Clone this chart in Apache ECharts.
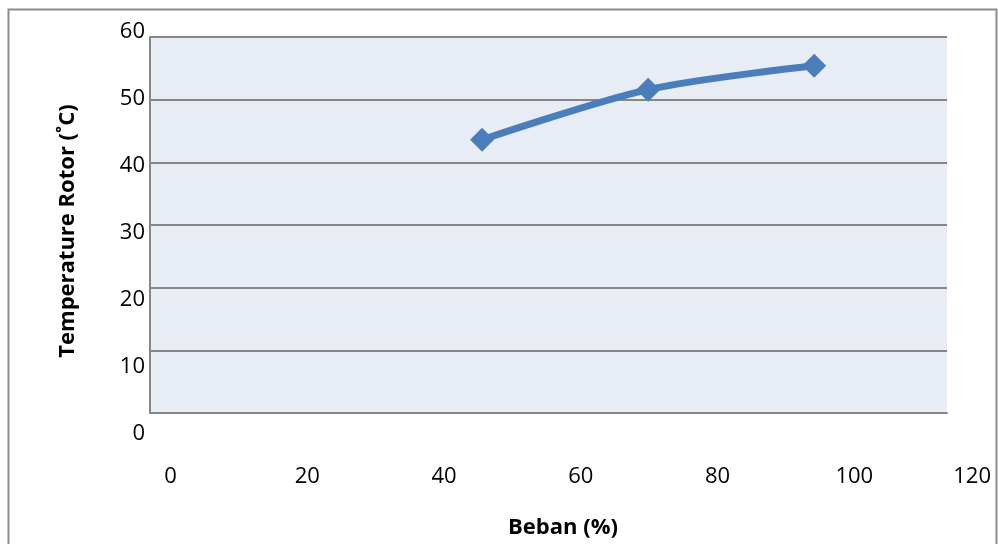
<!DOCTYPE html>
<html>
<head>
<meta charset="utf-8">
<script src="https://cdn.jsdelivr.net/npm/echarts/dist/echarts.min.js"></script>
<style>
  html, body { margin: 0; padding: 0; background: #ffffff; }
  #chart { width: 998px; height: 544px; }
</style>
</head>
<body>
<div id="chart"></div>
<script>
// Load (%) and measured rotor temperature (°C)
const loadPercent = [50, 75, 100];
const rotorTemp = [43.6, 51.6, 55.4];

// Axis ranges and tick steps
const xMin = 0, xMax = 120, xStep = 20;
const yMin = 0, yMax = 60, yStep = 10;

const xTitle = 'Beban (%)';
const yTitle = 'Temperature Rotor (˚C)';

const FONT = '"Open Sans", "Noto Sans", sans-serif';
const GRID_GRAY = '#868686';
const LINE_BLUE = '#4A7EBB';

const chart = echarts.init(document.getElementById('chart'), null, { renderer: 'canvas' });

const hiddenAxis = (gridIndex) => ({
  gridIndex, type: 'value', show: false, min: 0, max: 1
});

chart.setOption({
  animation: false,
  backgroundColor: '#ffffff',
  grid: [
    // plot area
    { left: 150, top: 37, width: 797, height: 376, show: true,
      backgroundColor: '#E8ECF5', borderWidth: 0, containLabel: false },
    // vertical tick labels
    { left: 150, top: 32, width: 797, height: 402, containLabel: false },
    // horizontal tick labels
    { left: 170.5, top: 37, width: 820.5, height: 376, containLabel: false }
  ],
  xAxis: [
    {
      gridIndex: 0, type: 'value', min: xMin, max: xMax, interval: xStep,
      axisLine: { show: true, onZero: false, lineStyle: { color: GRID_GRAY, width: 2 } },
      axisTick: { show: false },
      axisLabel: { show: false },
      splitLine: { show: false }
    },
    hiddenAxis(1),
    {
      gridIndex: 2, type: 'value', min: xMin, max: xMax, interval: xStep,
      axisLine: { show: false },
      axisTick: { show: false },
      splitLine: { show: false },
      axisLabel: {
        show: true, margin: 53, fontSize: 22, lineHeight: 22,
        color: '#000000', fontFamily: FONT, alignMaxLabel: 'right'
      }
    }
  ],
  yAxis: [
    {
      gridIndex: 0, type: 'value', min: yMin, max: yMax, interval: yStep,
      axisLine: { show: true, onZero: false, lineStyle: { color: GRID_GRAY, width: 2 } },
      axisTick: { show: false },
      axisLabel: { show: false },
      splitLine: { show: true, lineStyle: { color: GRID_GRAY, width: 2 } }
    },
    {
      gridIndex: 1, type: 'value', min: yMin, max: yMax, interval: yStep,
      axisLine: { show: false },
      axisTick: { show: false },
      splitLine: { show: false },
      axisLabel: {
        show: true, margin: 5, fontSize: 22, color: '#000000', fontFamily: FONT
      }
    },
    hiddenAxis(2)
  ],
  series: [
    {
      type: 'line',
      xAxisIndex: 0, yAxisIndex: 0,
      data: loadPercent.map((x, i) => [x, rotorTemp[i]]),
      smooth: 0.3,
      symbol: 'diamond',
      symbolSize: 24,
      showAllSymbol: true,
      lineStyle: { color: LINE_BLUE, width: 7 },
      itemStyle: { color: LINE_BLUE },
      z: 5
    }
  ],
  graphic: [
    {
      type: 'rect', silent: true, z: 100,
      shape: { x: 8.5, y: 9.5, width: 988, height: 600 },
      style: { fill: 'none', stroke: '#8C8C8C', lineWidth: 2 }
    },
    {
      type: 'text', silent: true, z: 100,
      x: 563, y: 528,
      style: {
        text: xTitle, font: 'bold 22px ' + FONT, fill: '#000000',
        align: 'center', verticalAlign: 'middle'
      }
    },
    {
      type: 'text', silent: true, z: 100,
      x: 68, y: 231, rotation: Math.PI / 2,
      style: {
        text: yTitle, font: 'bold 22px ' + FONT, fill: '#000000',
        align: 'center', verticalAlign: 'middle'
      }
    }
  ]
});
</script>
</body>
</html>
